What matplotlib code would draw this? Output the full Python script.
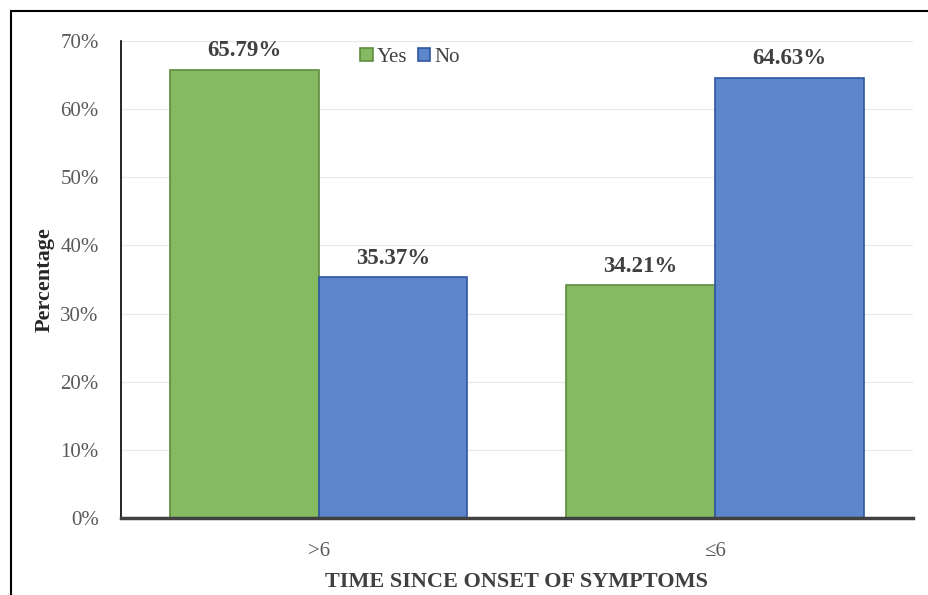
import numpy as np
import matplotlib.pyplot as plt
from matplotlib.lines import Line2D
from matplotlib.ticker import PercentFormatter

# Data
categories = ['>6', '≤6']
yes_vals = [65.79, 34.21]
no_vals = [35.37, 64.63]
series_names = ['Yes', 'No']

plt.rcParams['font.family'] = ['Liberation Serif', 'DejaVu Serif']

fig = plt.figure(figsize=(9.29, 5.95), dpi=100)
ax = fig.add_axes([0.1302, 0.1294, 0.8526, 0.8017])

x = np.arange(len(categories))
w = 0.375
green, green_edge = '#86BA62', '#5E8C3E'
blue, blue_edge = '#5B86CC', '#2F55A2'

b1 = ax.bar(x - w / 2, yes_vals, w, color=green, edgecolor=green_edge,
            linewidth=1.2, label=series_names[0], zorder=3)
b2 = ax.bar(x + w / 2, no_vals, w, color=blue, edgecolor=blue_edge,
            linewidth=1.2, label=series_names[1], zorder=3)

# Value labels on top of bars
for bars, vals in [(b1, yes_vals), (b2, no_vals)]:
    for rect, v in zip(bars, vals):
        ax.annotate(f'{v:.2f}%', (rect.get_x() + rect.get_width() / 2, v),
                    xytext=(0, 6), textcoords='offset points',
                    ha='center', va='bottom', fontsize=16.5,
                    fontweight='bold', color='#404040')

ax.set_xlim(-0.5, 1.5)
ax.set_ylim(0, 70)
ax.set_yticks(np.arange(0, 71, 10))
ax.yaxis.set_major_formatter(PercentFormatter(decimals=0))
ax.set_xticks(x)
ax.set_xticklabels(categories)
ax.tick_params(axis='both', length=0, labelsize=15, labelcolor='#595959')
ax.tick_params(axis='x', pad=17)
ax.tick_params(axis='y', pad=16)

ax.grid(axis='y', color='#E8E8E8', linewidth=0.9, zorder=0)
ax.set_axisbelow(True)
for s in ['top', 'right']:
    ax.spines[s].set_visible(False)
ax.spines['left'].set_color('black')
ax.spines['left'].set_linewidth(1.2)
ax.spines['bottom'].set_color('#404040')
ax.spines['bottom'].set_linewidth(2.5)
ax.spines['bottom'].set_zorder(4)

ax.set_ylabel('Percentage', fontsize=16, fontweight='bold', color='#262626', labelpad=4)
ax.set_xlabel('TIME SINCE ONSET OF SYMPTOMS', fontsize=16, fontweight='bold',
              color='#404040', labelpad=8)

ax.legend(loc='upper center', bbox_to_anchor=(0.365, 1.025), ncol=2, frameon=False,
          fontsize=15, handlelength=0.6, handleheight=0.6, handletextpad=0.2,
          columnspacing=0.5, labelcolor='#404040')

# Outer frame lines (top and left)
fx, fy = 11.5 / 929, 1 - 10.5 / 595
fig.add_artist(Line2D([fx, fx], [0, fy], transform=fig.transFigure, color='black', linewidth=1.5))
fig.add_artist(Line2D([fx, 1], [fy, fy], transform=fig.transFigure, color='black', linewidth=1.5))

fig.savefig('out.png', dpi=100)
